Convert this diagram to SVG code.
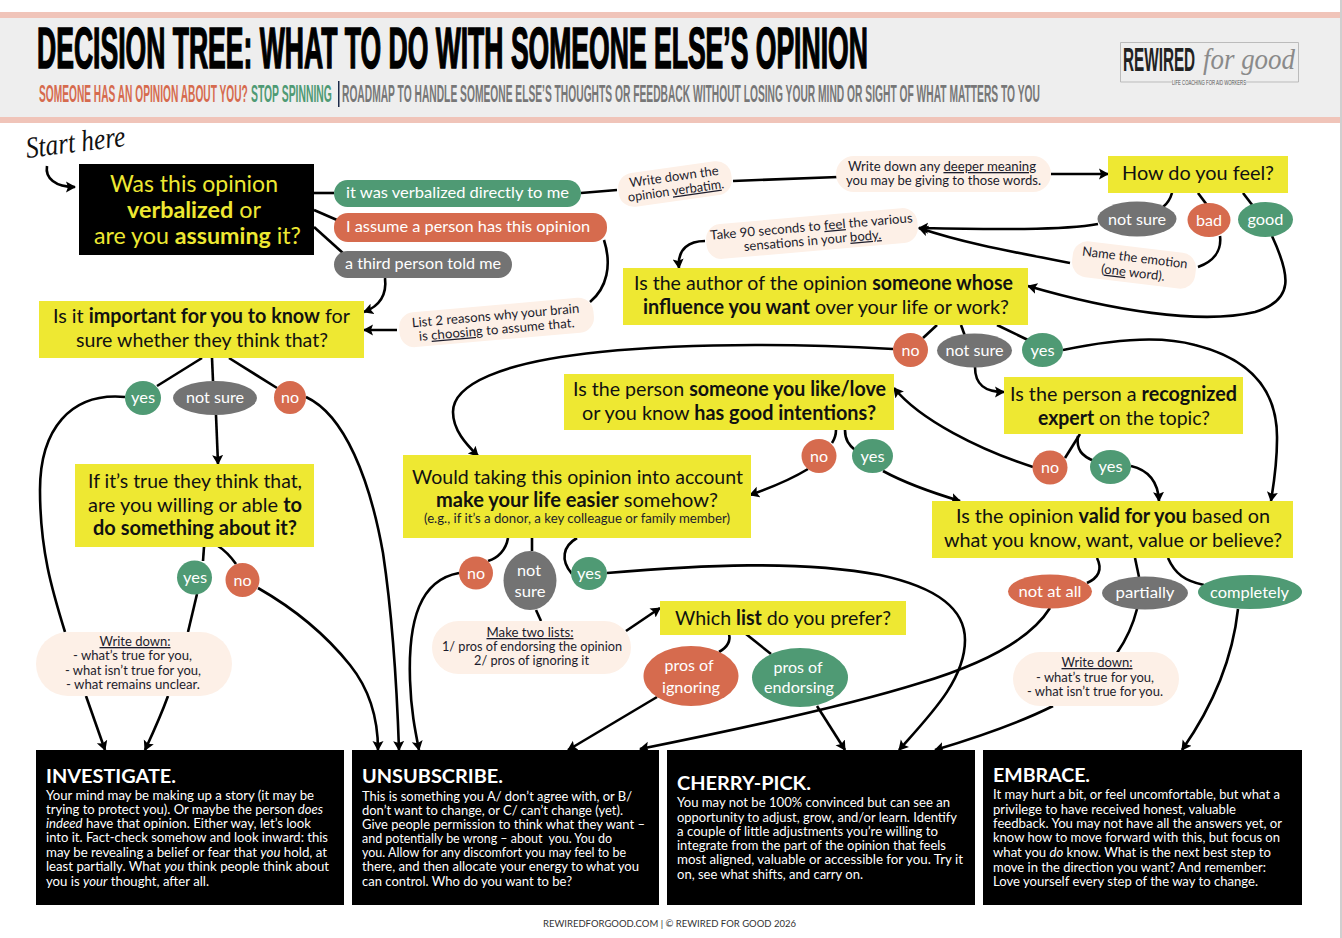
<svg xmlns="http://www.w3.org/2000/svg" width="1342" height="938" viewBox="0 0 1342 938">
<style>
text{font-family:"Lato","Noto Sans","Liberation Sans",sans-serif;white-space:pre}
.y{fill:#eee832}.blk{fill:#000}.cream{fill:#fdf0e7}.g{fill:#4f9a74}.o{fill:#d66b4e}.s{fill:#737373}
.q{font-size:20px;fill:#111}.qb{font-size:23px;fill:#eee832}
.p{font-size:16px;fill:#fff;text-anchor:middle}
.n{font-size:13px;fill:#1c1c2c}
.b{font-weight:700}
.u{text-decoration:underline}
.h{font-size:19.5px;fill:#fff;font-weight:700}
.t{font-size:12.6px;fill:#fff}
.i{font-style:italic}
.c path{fill:none;stroke:#000;stroke-width:2.6;stroke-linecap:butt}
.c path.a{marker-end:url(#ah)}
.d{font-family:"Liberation Sans",sans-serif;font-weight:700}
.sc{font-family:"Liberation Serif",serif;font-style:italic}
</style>
<defs>
<marker id="ah" markerUnits="userSpaceOnUse" markerWidth="14" markerHeight="14" refX="9" refY="6" orient="auto"><path d="M0,0.5 L10,6 L0,11.5 L2,6Z" fill="#000"/></marker>
</defs>
<rect x="1340" y="0" width="2" height="938" fill="#cfcfcf"/>
<g id="header">
<rect x="0" y="12" width="1340" height="6" fill="#f0c4b9"/>
<rect x="0" y="18" width="1340" height="99" fill="#eeeeee"/>
<rect x="0" y="117" width="1340" height="6" fill="#f0c4b9"/>
<text class="d" transform="translate(37 67.5) scale(0.435 1)" font-size="58" textLength="1910" lengthAdjust="spacingAndGlyphs" fill="#000" stroke="#000" stroke-width="1.6">DECISION TREE: WHAT TO DO WITH SOMEONE ELSE’S OPINION</text>
<text class="d" transform="translate(39 102) scale(0.45 1)" font-size="23.5" textLength="464" lengthAdjust="spacingAndGlyphs" fill="#d66b4e">SOMEONE HAS AN OPINION ABOUT YOU?</text>
<text class="d" transform="translate(251 102) scale(0.43 1)" font-size="23.5" textLength="188" lengthAdjust="spacingAndGlyphs" fill="#4f9a74">STOP SPINNING</text>
<rect x="338" y="81" width="1.5" height="26" fill="#1c2a4a"/>
<text class="d" transform="translate(342 102) scale(0.45 1)" font-size="23.5" textLength="1551" lengthAdjust="spacingAndGlyphs" fill="#777">ROADMAP TO HANDLE SOMEONE ELSE’S THOUGHTS OR FEEDBACK WITHOUT LOSING YOUR MIND OR SIGHT OF WHAT MATTERS TO YOU</text>
</g>
<g id="logo">
<path d="M1172,82 H1120.5 V42.5 H1298.5 V82 H1246" fill="none" stroke="#bbb" stroke-width="1"/>
<text class="d" transform="translate(1123 71) scale(0.44 1)" font-size="33" textLength="164" lengthAdjust="spacingAndGlyphs" fill="#222">REWIRED</text>
<text class="sc" x="1203" y="69" font-size="30" textLength="92" lengthAdjust="spacingAndGlyphs" fill="#8a8a8a">for good</text>
<text class="d" transform="translate(1172 85) scale(0.5 1)" font-size="8" style="font-weight:400" textLength="148" lengthAdjust="spacingAndGlyphs" fill="#555">LIFE COACHING FOR AID WORKERS</text>
</g>
<g id="start-here"><text class="sc" transform="rotate(-7 27 158)" x="27" y="158" font-size="30" textLength="100" lengthAdjust="spacingAndGlyphs" fill="#111">Start here</text></g>

<g id="connectors" class="c">
<path class="a" d="M47,166 C45,178 55,187 75,187"/>
<path d="M314,193 H334"/><path d="M314,210 L337,220"/><path d="M314,227 L344,254"/>
<path d="M581,193 L617,190"/><path d="M733,181 L838,177"/><path class="a" d="M1051,174 H1108"/>
<path d="M1172,193 C1170,200 1168,203 1163,207"/><path d="M1198,193 L1207,205"/><path d="M1243,193 L1253,206"/>
<path class="a" d="M1098,224 C1060,231 980,229 919,228"/>
<path class="a" d="M705,241 C690,241 677,248 679,268"/>
<path d="M1220,236 C1222,252 1212,262 1198,267"/>
<path class="a" d="M1070,263 C1020,253 970,245 919,228"/>
<path class="a" d="M1272,236 C1290,275 1295,300 1255,312 C1200,325 1110,310 1028,286"/>
<path d="M937,325 L923,338"/><path d="M961,325 L965,336"/><path d="M997,325 L1028,340"/>
<path class="a" d="M1063,350 C1110,340 1160,335 1195,345 C1255,360 1278,395 1277,440 C1277,465 1274,482 1271,501"/>
<path class="a" d="M975,367 C975,385 985,392 1004,392"/>
<path class="a" d="M893,349 C800,344 690,343 600,352 C500,362 453,385 453,412 C453,430 466,444 478,456"/>
<path d="M836,430 C836,436 834,440 832,443"/><path d="M845,430 C845,440 849,445 855,450"/>
<path class="a" d="M808,469 C790,480 770,488 750,495"/>
<path class="a" d="M883,471 C905,483 930,492 960,501"/>
<path d="M1080,434 L1065,458"/><path d="M1078,436 C1076,450 1082,456 1094,461"/>
<path class="a" d="M1033,467 C980,450 920,420 894,388"/>
<path class="a" d="M1131,466 C1148,470 1158,482 1159,501"/>
<path d="M1097,558 C1103,570 1098,578 1087,583"/><path d="M1135,558 L1139,577"/><path d="M1168,558 C1175,574 1185,581 1204,585"/>
<path class="a" d="M1050,608 C1030,640 980,665 920,683 C840,708 720,733 640,749"/>
<path class="a" d="M607,573 C700,565 800,560 880,575 C940,588 965,610 965,640 C965,680 930,715 899,750"/>
<path d="M1137,609 C1133,625 1126,640 1117,653"/>
<path class="a" d="M1053,706 C1015,725 975,738 935,750"/>
<path class="a" d="M1238,609 C1232,665 1210,710 1182,750"/>
<path d="M508,538 C506,550 498,558 488,561"/><path d="M577,538 C563,546 560,560 572,574"/><path d="M532,538 L532,551"/>
<path class="a" d="M459,573 C420,580 408,620 410,680 C411,710 415,730 419,750"/>
<path d="M536,610 L541,621"/>
<path class="a" d="M626,631 L660,608"/>
<path d="M729,634 C731,642 726,648 719,652"/><path d="M746,634 L771,654"/>
<path class="a" d="M657,697 L568,750"/>
<path class="a" d="M817,706 L845,750"/>
<path class="a" d="M385,278 C387,295 380,306 364,312"/>
<path class="a" d="M397,330 H364"/>
<path d="M604,240 C612,265 607,288 590,302"/>
<path d="M202,358 L157,386"/><path d="M212,358 L213,381"/><path d="M229,358 L277,388"/>
<path class="a" d="M216,415 L218,464"/>
<path d="M125,397 C70,392 40,430 40,490 C40,550 52,590 65,632"/>
<path class="a" d="M306,397 C345,415 370,480 383,553 C393,620 397,690 399,750"/>
<path d="M204,547 L203,561"/><path d="M218,546 C226,551 231,557 236,564"/>
<path d="M197,594 L188,632"/>
<path class="a" d="M258,588 C300,612 330,640 350,665 C370,690 378,720 378,750"/>
<path class="a" d="M86,696 L105,750"/>
<path class="a" d="M168,696 C160,718 152,735 145,750"/>
</g>

<g id="q-verbalized"><rect class="blk" x="79" y="164" width="235" height="91"/>
<text class="qb" x="110" y="192" textLength="168" lengthAdjust="spacingAndGlyphs">Was this opinion</text>
<text class="qb" x="127" y="218" textLength="134" lengthAdjust="spacingAndGlyphs"><tspan class="b">verbalized</tspan> or</text>
<text class="qb" x="94" y="244" textLength="207" lengthAdjust="spacingAndGlyphs">are you <tspan class="b">assuming</tspan> it?</text></g>
<g id="a-verbalized"><rect class="g" x="334" y="180" width="247" height="27" rx="13.5"/><text class="p" x="457.5" y="198" textLength="223" lengthAdjust="spacingAndGlyphs">it was verbalized directly to me</text></g>
<g id="a-assume"><rect class="o" x="334" y="213" width="273" height="29" rx="14"/><text class="p" x="468" y="232" textLength="244" lengthAdjust="spacingAndGlyphs">I assume a person has this opinion</text></g>
<g id="a-third"><rect class="s" x="334" y="251" width="178" height="27" rx="13.5"/><text class="p" x="423" y="269" textLength="156" lengthAdjust="spacingAndGlyphs">a third person told me</text></g>

<g id="note-verbatim" transform="rotate(-8 675 184)"><rect class="cream" x="618" y="167" width="114" height="34" rx="15"/>
<text class="n" x="675" y="181" text-anchor="middle" textLength="90" lengthAdjust="spacingAndGlyphs">Write down the</text>
<text class="n" x="675" y="195" text-anchor="middle" textLength="97" lengthAdjust="spacingAndGlyphs">opinion <tspan class="u">verbatim</tspan>.</text></g>
<g id="note-meaning"><rect class="cream" x="836" y="156" width="215" height="36" rx="18"/>
<text class="n" x="848" y="171" textLength="188" lengthAdjust="spacingAndGlyphs">Write down any <tspan class="u">deeper meaning</tspan></text>
<text class="n" x="846" y="185" textLength="195" lengthAdjust="spacingAndGlyphs">you may be giving to those words.</text></g>
<g id="q-feel"><rect class="y" x="1108" y="156" width="180" height="37"/><text class="q" x="1122" y="180" textLength="152" lengthAdjust="spacingAndGlyphs">How do you feel?</text></g>
<g id="f-notsure"><ellipse class="s" cx="1137" cy="219" rx="39.5" ry="17.5"/><text class="p" x="1137" y="225" textLength="58" lengthAdjust="spacingAndGlyphs">not sure</text></g>
<g id="f-bad"><ellipse class="o" cx="1209" cy="220" rx="21.5" ry="17"/><text class="p" x="1209" y="226" textLength="26" lengthAdjust="spacingAndGlyphs">bad</text></g>
<g id="f-good"><ellipse class="g" cx="1265.5" cy="219.5" rx="27.5" ry="17.5"/><text class="p" x="1265.5" y="225" textLength="36" lengthAdjust="spacingAndGlyphs">good</text></g>
<g id="note-feel" transform="rotate(-5 812 234)"><rect class="cream" x="706" y="216" width="212" height="35" rx="15"/>
<text class="n" x="812" y="231" text-anchor="middle" textLength="203" lengthAdjust="spacingAndGlyphs">Take 90 seconds to <tspan class="u">feel</tspan> the various</text>
<text class="n" x="812" y="245" text-anchor="middle" textLength="138" lengthAdjust="spacingAndGlyphs">sensations in your <tspan class="u">body.</tspan></text></g>
<g id="note-emotion" transform="rotate(7 1134 265)"><rect class="cream" x="1072" y="247" width="124" height="36" rx="15"/>
<text class="n" x="1134" y="262" text-anchor="middle" textLength="106" lengthAdjust="spacingAndGlyphs">Name the emotion</text>
<text class="n" x="1134" y="277" text-anchor="middle" textLength="64" lengthAdjust="spacingAndGlyphs">(<tspan class="u">one</tspan> word).</text></g>

<g id="q-author"><rect class="y" x="623" y="268" width="405" height="57"/>
<text class="q" x="634" y="290" textLength="379" lengthAdjust="spacingAndGlyphs">Is the author of the opinion <tspan class="b">someone whose</tspan></text>
<text class="q" x="643" y="314" textLength="366" lengthAdjust="spacingAndGlyphs"><tspan class="b">influence you want</tspan> over your life or work?</text></g>
<g id="au-no"><ellipse class="o" cx="910.5" cy="350" rx="17.5" ry="17"/><text class="p" x="910.5" y="356" textLength="18" lengthAdjust="spacingAndGlyphs">no</text></g>
<g id="au-notsure"><ellipse class="s" cx="974.5" cy="350.5" rx="37.5" ry="17"/><text class="p" x="974.5" y="356" textLength="58" lengthAdjust="spacingAndGlyphs">not sure</text></g>
<g id="au-yes"><ellipse class="g" cx="1042.5" cy="350" rx="20.5" ry="17"/><text class="p" x="1042.5" y="356" textLength="24" lengthAdjust="spacingAndGlyphs">yes</text></g>

<g id="q-important"><rect class="y" x="39" y="301" width="325" height="57"/>
<text class="q" x="53" y="323" textLength="297" lengthAdjust="spacingAndGlyphs">Is it <tspan class="b">important for you to know</tspan> for</text>
<text class="q" x="76" y="347" textLength="252" lengthAdjust="spacingAndGlyphs">sure whether they think that?</text></g>
<g id="note-reasons" transform="rotate(-5 496 322)"><rect class="cream" x="399" y="305" width="195" height="35" rx="15"/>
<text class="n" x="496" y="320" text-anchor="middle" textLength="168" lengthAdjust="spacingAndGlyphs">List 2 reasons why your brain</text>
<text class="n" x="496" y="334" text-anchor="middle" textLength="156" lengthAdjust="spacingAndGlyphs">is <tspan class="u">choosing</tspan> to assume that.</text></g>
<g id="im-yes"><ellipse class="g" cx="143" cy="398" rx="18" ry="17"/><text class="p" x="143" y="403" textLength="24" lengthAdjust="spacingAndGlyphs">yes</text></g>
<g id="im-notsure"><ellipse class="s" cx="215" cy="398" rx="42" ry="17"/><text class="p" x="215" y="403" textLength="58" lengthAdjust="spacingAndGlyphs">not sure</text></g>
<g id="im-no"><ellipse class="o" cx="290" cy="397.5" rx="16" ry="16.5"/><text class="p" x="290" y="403" textLength="18" lengthAdjust="spacingAndGlyphs">no</text></g>

<g id="q-willing"><rect class="y" x="75" y="464" width="239" height="83"/>
<text class="q" x="88" y="488" textLength="214" lengthAdjust="spacingAndGlyphs">If it’s true they think that,</text>
<text class="q" x="88" y="512" textLength="214" lengthAdjust="spacingAndGlyphs">are you willing or able <tspan class="b">to</tspan></text>
<text class="q b" x="93" y="535" textLength="204" lengthAdjust="spacingAndGlyphs">do something about it?</text></g>
<g id="wi-yes"><ellipse class="g" cx="194.5" cy="577.5" rx="17.5" ry="17"/><text class="p" x="195" y="583" textLength="24" lengthAdjust="spacingAndGlyphs">yes</text></g>
<g id="wi-no"><ellipse class="o" cx="242.5" cy="580" rx="17" ry="17"/><text class="p" x="242.5" y="586" textLength="18" lengthAdjust="spacingAndGlyphs">no</text></g>
<g id="note-write1"><rect class="cream" x="36" y="632" width="196" height="64" rx="32"/>
<text class="n u" x="135" y="646" text-anchor="middle" textLength="71" lengthAdjust="spacingAndGlyphs">Write down:</text>
<text class="n" x="73" y="660" textLength="119" lengthAdjust="spacingAndGlyphs">- what’s true for you,</text>
<text class="n" x="65" y="675" textLength="136" lengthAdjust="spacingAndGlyphs">- what isn’t true for you,</text>
<text class="n" x="66" y="689" textLength="134" lengthAdjust="spacingAndGlyphs">- what remains unclear.</text></g>

<g id="q-person"><rect class="y" x="564" y="374" width="330" height="56"/>
<text class="q" x="573" y="396" textLength="313" lengthAdjust="spacingAndGlyphs">Is the person <tspan class="b">someone you like/love</tspan></text>
<text class="q" x="582" y="420" textLength="294" lengthAdjust="spacingAndGlyphs">or you know <tspan class="b">has good intentions?</tspan></text></g>
<g id="pe-no"><ellipse class="o" cx="819" cy="456" rx="17.5" ry="17"/><text class="p" x="819" y="462" textLength="18" lengthAdjust="spacingAndGlyphs">no</text></g>
<g id="pe-yes"><ellipse class="g" cx="872.5" cy="456" rx="20.5" ry="17"/><text class="p" x="872.5" y="462" textLength="24" lengthAdjust="spacingAndGlyphs">yes</text></g>

<g id="q-expert"><rect class="y" x="1004" y="377" width="239" height="57"/>
<text class="q" x="1010" y="401" textLength="227" lengthAdjust="spacingAndGlyphs">Is the person a <tspan class="b">recognized</tspan></text>
<text class="q" x="1038" y="425" textLength="172" lengthAdjust="spacingAndGlyphs"><tspan class="b">expert</tspan> on the topic?</text></g>
<g id="ex-no"><ellipse class="o" cx="1050" cy="467.5" rx="17.5" ry="17"/><text class="p" x="1050" y="473" textLength="18" lengthAdjust="spacingAndGlyphs">no</text></g>
<g id="ex-yes"><ellipse class="g" cx="1110.5" cy="467" rx="20.5" ry="17"/><text class="p" x="1110.5" y="472" textLength="24" lengthAdjust="spacingAndGlyphs">yes</text></g>

<g id="q-easier"><rect class="y" x="403" y="455" width="348" height="83"/>
<text class="q" x="412" y="484" textLength="331" lengthAdjust="spacingAndGlyphs">Would taking this opinion into account</text>
<text class="q" x="436" y="507" textLength="282" lengthAdjust="spacingAndGlyphs"><tspan class="b">make your life easier</tspan> somehow?</text>
<text class="n" x="424" y="523" textLength="306" lengthAdjust="spacingAndGlyphs" fill="#111">(e.g., if it’s a donor, a key colleague or family member)</text></g>
<g id="ea-no"><ellipse class="o" cx="476" cy="573" rx="17" ry="16.5"/><text class="p" x="476" y="579" textLength="18" lengthAdjust="spacingAndGlyphs">no</text></g>
<g id="ea-notsure"><ellipse class="s" cx="530" cy="580.5" rx="26.5" ry="29.5"/><text class="p" x="529" y="576" textLength="24" lengthAdjust="spacingAndGlyphs">not</text><text class="p" x="530" y="597" textLength="31" lengthAdjust="spacingAndGlyphs">sure</text></g>
<g id="ea-yes"><ellipse class="g" cx="589" cy="573.5" rx="18" ry="16.5"/><text class="p" x="589" y="579" textLength="24" lengthAdjust="spacingAndGlyphs">yes</text></g>
<g id="note-lists"><rect class="cream" x="432" y="621" width="199" height="53" rx="26.5"/>
<text class="n u" x="530" y="637" text-anchor="middle" textLength="87" lengthAdjust="spacingAndGlyphs">Make two lists:</text>
<text class="n" x="442" y="651" textLength="180" lengthAdjust="spacingAndGlyphs">1/ pros of endorsing the opinion</text>
<text class="n" x="474" y="665" textLength="115" lengthAdjust="spacingAndGlyphs">2/ pros of ignoring it</text></g>
<g id="q-list"><rect class="y" x="660" y="601" width="246" height="34"/><text class="q" x="675" y="625" textLength="216" lengthAdjust="spacingAndGlyphs">Which <tspan class="b">list</tspan> do you prefer?</text></g>
<g id="li-ignoring"><ellipse class="o" cx="691" cy="676" rx="47.5" ry="30"/><text class="p" x="689" y="671" textLength="49" lengthAdjust="spacingAndGlyphs">pros of</text><text class="p" x="691" y="693" textLength="58" lengthAdjust="spacingAndGlyphs">ignoring</text></g>
<g id="li-endorsing"><ellipse class="g" cx="800" cy="677.5" rx="48" ry="29.5"/><text class="p" x="798" y="673" textLength="49" lengthAdjust="spacingAndGlyphs">pros of</text><text class="p" x="799" y="693" textLength="70" lengthAdjust="spacingAndGlyphs">endorsing</text></g>

<g id="q-valid"><rect class="y" x="932" y="501" width="361" height="57"/>
<text class="q" x="956" y="523" textLength="314" lengthAdjust="spacingAndGlyphs">Is the opinion <tspan class="b">valid for you</tspan> based on</text>
<text class="q" x="944" y="547" textLength="338" lengthAdjust="spacingAndGlyphs">what you know, want, value or believe?</text></g>
<g id="va-notatall"><ellipse class="o" cx="1050" cy="591.5" rx="42" ry="17"/><text class="p" x="1050" y="597" textLength="63" lengthAdjust="spacingAndGlyphs">not at all</text></g>
<g id="va-partially"><ellipse class="s" cx="1145" cy="593" rx="43" ry="16.5"/><text class="p" x="1145" y="598" textLength="59" lengthAdjust="spacingAndGlyphs">partially</text></g>
<g id="va-completely"><ellipse class="g" cx="1250" cy="592" rx="52" ry="17"/><text class="p" x="1249.5" y="598" textLength="79" lengthAdjust="spacingAndGlyphs">completely</text></g>
<g id="note-write2"><rect class="cream" x="1013" y="652" width="166" height="54" rx="27"/>
<text class="n u" x="1097" y="667" text-anchor="middle" textLength="71" lengthAdjust="spacingAndGlyphs">Write down:</text>
<text class="n" x="1036" y="682" textLength="118" lengthAdjust="spacingAndGlyphs">- what’s true for you,</text>
<text class="n" x="1027" y="696" textLength="136" lengthAdjust="spacingAndGlyphs">- what isn’t true for you.</text></g>

<g id="out-investigate"><rect class="blk" x="36" y="750" width="308" height="155"/>
<text class="h" x="46" y="783" textLength="130" lengthAdjust="spacingAndGlyphs">INVESTIGATE.</text>
<text class="t" x="46" y="800" textLength="268" lengthAdjust="spacingAndGlyphs">Your mind may be making up a story (it may be</text>
<text class="t" x="46" y="814" textLength="277" lengthAdjust="spacingAndGlyphs">trying to protect you). Or maybe the person <tspan class="i">does</tspan></text>
<text class="t" x="46" y="828" textLength="265" lengthAdjust="spacingAndGlyphs"><tspan class="i">indeed</tspan> have that opinion. Either way, let’s look</text>
<text class="t" x="46" y="842" textLength="282" lengthAdjust="spacingAndGlyphs">into it. Fact-check somehow and look inward: this</text>
<text class="t" x="46" y="857" textLength="281" lengthAdjust="spacingAndGlyphs">may be revealing a belief or fear that <tspan class="i">you</tspan> hold, at</text>
<text class="t" x="46" y="871" textLength="283" lengthAdjust="spacingAndGlyphs">least partially. What <tspan class="i">you</tspan> think people think about</text>
<text class="t" x="46" y="886" textLength="163" lengthAdjust="spacingAndGlyphs">you is <tspan class="i">your</tspan> thought, after all.</text></g>
<g id="out-unsubscribe"><rect class="blk" x="352" y="750" width="307" height="155"/>
<text class="h" x="362" y="783" textLength="141" lengthAdjust="spacingAndGlyphs">UNSUBSCRIBE.</text>
<text class="t" x="362" y="801" textLength="270" lengthAdjust="spacingAndGlyphs">This is something you A/ don’t agree with, or B/</text>
<text class="t" x="362" y="815" textLength="261" lengthAdjust="spacingAndGlyphs">don’t want to change, or C/ can’t change (yet).</text>
<text class="t" x="362" y="829" textLength="283" lengthAdjust="spacingAndGlyphs">Give people permission to think what they want –</text>
<text class="t" x="362" y="843" textLength="250" lengthAdjust="spacingAndGlyphs">and potentially be wrong – about  you. You do</text>
<text class="t" x="362" y="857" textLength="264" lengthAdjust="spacingAndGlyphs">you. Allow for any discomfort you may feel to be</text>
<text class="t" x="362" y="871" textLength="277" lengthAdjust="spacingAndGlyphs">there, and then allocate your energy to what you</text>
<text class="t" x="362" y="886" textLength="210" lengthAdjust="spacingAndGlyphs">can control. Who do you want to be?</text></g>
<g id="out-cherry"><rect class="blk" x="667" y="750" width="308" height="155"/>
<text class="h" x="677" y="790" textLength="134" lengthAdjust="spacingAndGlyphs">CHERRY-PICK.</text>
<text class="t" x="677" y="807" textLength="273" lengthAdjust="spacingAndGlyphs">You may not be 100% convinced but can see an</text>
<text class="t" x="677" y="822" textLength="280" lengthAdjust="spacingAndGlyphs">opportunity to adjust, grow, and/or learn. Identify</text>
<text class="t" x="677" y="836" textLength="261" lengthAdjust="spacingAndGlyphs">a couple of little adjustments you’re willing to</text>
<text class="t" x="677" y="850" textLength="269" lengthAdjust="spacingAndGlyphs">integrate from the part of the opinion that feels</text>
<text class="t" x="677" y="864" textLength="286" lengthAdjust="spacingAndGlyphs">most aligned, valuable or accessible for you. Try it</text>
<text class="t" x="677" y="879" textLength="186" lengthAdjust="spacingAndGlyphs">on, see what shifts, and carry on.</text></g>
<g id="out-embrace"><rect class="blk" x="983" y="750" width="319" height="155"/>
<text class="h" x="993" y="782" textLength="97" lengthAdjust="spacingAndGlyphs">EMBRACE.</text>
<text class="t" x="993" y="799" textLength="287" lengthAdjust="spacingAndGlyphs">It may hurt a bit, or feel uncomfortable, but what a</text>
<text class="t" x="993" y="814" textLength="243" lengthAdjust="spacingAndGlyphs">privilege to have received honest, valuable</text>
<text class="t" x="993" y="828" textLength="289" lengthAdjust="spacingAndGlyphs">feedback. You may not have all the answers yet, or</text>
<text class="t" x="993" y="842" textLength="287" lengthAdjust="spacingAndGlyphs">know how to move forward with this, but focus on</text>
<text class="t" x="993" y="857" textLength="278" lengthAdjust="spacingAndGlyphs">what you <tspan class="i">do</tspan> know. What is the next best step to</text>
<text class="t" x="993" y="872" textLength="273" lengthAdjust="spacingAndGlyphs">move in the direction you want? And remember:</text>
<text class="t" x="993" y="886" textLength="265" lengthAdjust="spacingAndGlyphs">Love yourself every step of the way to change.</text></g>
<g id="footer"><text x="543" y="927" font-size="9.5" fill="#333" textLength="253" lengthAdjust="spacingAndGlyphs">REWIREDFORGOOD.COM | © REWIRED FOR GOOD 2026</text></g>
</svg>
